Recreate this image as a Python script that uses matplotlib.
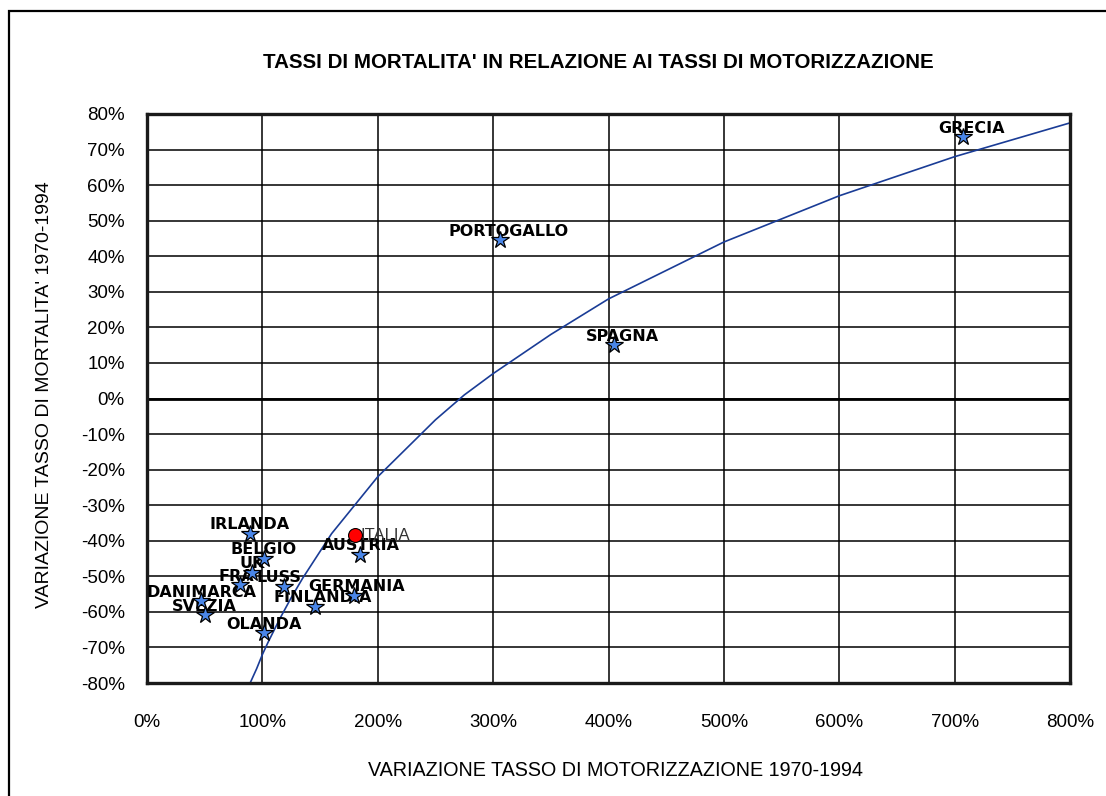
import matplotlib
matplotlib.use("Agg")
import matplotlib.pyplot as plt
from matplotlib.patches import Rectangle
from matplotlib.ticker import FuncFormatter, MultipleLocator

# data (values in %)
paesi = ["IRLANDA", "BELGIO", "UK", "FRA", "LUSS", "GERMANIA", "FINLANDIA",
         "AUSTRIA", "DANIMARCA", "SVEZIA", "OLANDA", "PORTOGALLO", "SPAGNA", "GRECIA"]
motorizzazione = [89, 101, 91, 81, 119, 179, 146, 185, 47, 50, 101, 306, 405, 707]
mortalita = [-38, -45, -49, -52.5, -53, -55.5, -58.5, -44, -57, -61, -66, 44.5, 15, 73.5]

italia_x = [180]
italia_y = [-38.5]

# trend curve
curva_x = [88, 95, 100, 105, 115, 125, 135, 150, 160, 175, 200, 225, 250, 275,
           300, 350, 400, 450, 500, 600, 700, 800]
curva_y = [-81, -76, -72, -68.5, -62, -56, -50.5, -43, -38, -32, -22, -14, -6, 1,
           7, 18, 28, 36, 44, 57, 68, 77.5]

titolo = "TASSI DI MORTALITA' IN RELAZIONE AI TASSI DI MOTORIZZAZIONE"
label_x = "VARIAZIONE TASSO DI MOTORIZZAZIONE 1970-1994"
label_y = "VARIAZIONE TASSO DI MORTALITA' 1970-1994"

# small horizontal nudges of some labels (points)
spostamenti = {"PORTOGALLO": 6, "SPAGNA": 6, "GRECIA": 6, "FINLANDIA": 5,
               "FRA": -3, "LUSS": -4, "GERMANIA": 2}

font = "Liberation Sans"

fig = plt.figure(figsize=(11.06, 7.96), dpi=100)
fig.patch.set_facecolor("white")
ax = fig.add_axes([147 / 1106, 1 - 683 / 796, (1070 - 147) / 1106, (683 - 114) / 796])

# outer frame (only top and left edges visible in the reference)
fig.patches.append(Rectangle((9 / 1106, -0.2), 1.5, 1.2 - 11 / 796,
                             transform=fig.transFigure, fill=False,
                             edgecolor="black", linewidth=1.6, zorder=0))

ax.set_xlim(0, 800)
ax.set_ylim(-80, 80)
ax.xaxis.set_major_locator(MultipleLocator(100))
ax.yaxis.set_major_locator(MultipleLocator(10))
ax.xaxis.set_major_formatter(FuncFormatter(lambda v, p: f"{v:.0f}%"))
ax.yaxis.set_major_formatter(FuncFormatter(lambda v, p: f"{v:.0f}%"))
ax.grid(True, color="black", linewidth=1.1)
ax.set_axisbelow(True)
ax.axhline(0, color="black", linewidth=2.0, zorder=1)
for s in ax.spines.values():
    s.set_linewidth(2.4)
    s.set_color("#1a1a1a")
ax.tick_params(length=0, labelsize=13.5)
ax.tick_params(axis="x", pad=22)
ax.tick_params(axis="y", pad=16)
for t in ax.get_xticklabels() + ax.get_yticklabels():
    t.set_fontfamily(font)

ax.plot(curva_x, curva_y, color="#1a3c96", linewidth=1.2, zorder=2)

for nome, x, y in zip(paesi, motorizzazione, mortalita):
    ax.annotate(nome, (x, y), xytext=(spostamenti.get(nome, 0), 6.5),
                textcoords="offset points", ha="center", va="center",
                fontsize=11.5, fontweight="bold", family="DejaVu Sans",
                color="black", zorder=3)
ax.plot(motorizzazione, mortalita, linestyle="none", marker="*", markersize=13,
        markerfacecolor="#4a86e8", markeredgecolor="black", markeredgewidth=0.9,
        zorder=4)

ax.plot(italia_x, italia_y, linestyle="none", marker="o", markersize=10,
        markerfacecolor="red", markeredgecolor="black", markeredgewidth=0.8,
        zorder=4)
ax.annotate("ITALIA", (italia_x[0], italia_y[0]), xytext=(4, 0),
            textcoords="offset points", ha="left", va="center",
            fontsize=12, family=font, color="#333333", zorder=3)

fig.text(598 / 1106, 1 - 62 / 796, titolo, ha="center", va="center",
         fontsize=14.8, fontweight="bold", family=font)
fig.text(615 / 1106, 1 - 771 / 796, label_x, ha="center", va="center",
         fontsize=14.2, family=font)
fig.text(45 / 1106, 1 - 395 / 796, label_y, ha="center", va="center",
         rotation=90, fontsize=14, family=font)

fig.savefig("out.png", dpi=100)
